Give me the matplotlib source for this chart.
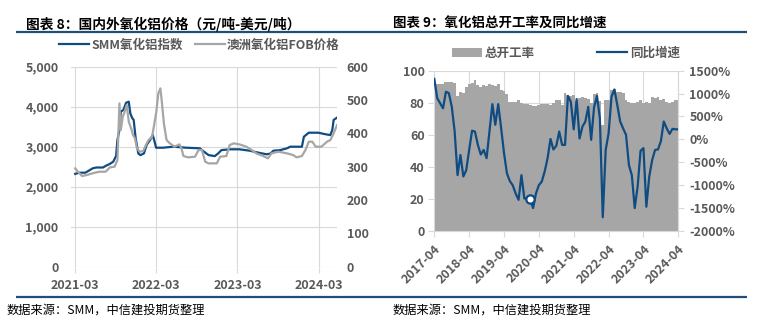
import matplotlib
matplotlib.use("Agg")
import matplotlib.pyplot as plt
import numpy as np
import pandas as pd
from matplotlib.lines import Line2D
from matplotlib.patches import Patch

plt.rcParams['font.family'] = ['Noto Sans CJK SC', 'DejaVu Sans']

# ---------------- data ----------------
# SMM alumina index (CNY/t)
smm_dates = ["2021-03-01", "2021-03-19", "2021-04-15", "2021-05-01", "2021-05-19", "2021-06-04",
             "2021-07-04", "2021-07-16", "2021-08-04", "2021-08-19", "2021-09-01", "2021-09-07",
             "2021-09-16", "2021-09-22", "2021-10-04", "2021-10-16", "2021-10-28", "2021-11-04",
             "2021-11-13", "2021-11-19", "2021-11-28", "2021-12-10", "2021-12-19", "2022-01-04",
             "2022-01-16", "2022-02-01", "2022-02-13", "2022-02-19", "2022-02-28", "2022-04-01",
             "2022-05-16", "2022-07-13", "2022-09-13", "2022-09-28", "2022-10-22", "2022-11-19",
             "2022-12-04", "2022-12-19", "2023-01-28", "2023-03-10", "2023-04-25", "2023-06-04",
             "2023-07-10", "2023-07-28", "2023-08-10", "2023-09-10", "2023-10-10", "2023-10-25",
             "2023-12-16", "2023-12-25", "2024-01-16", "2024-02-28", "2024-03-28", "2024-04-22",
             "2024-05-01", "2024-05-07", "2024-05-22"]
smm_values = [2320, 2350, 2350, 2400, 2460, 2480,
              2480, 2520, 2570, 2625, 2770, 3170,
              3420, 3875, 3920, 4100, 4125, 3830,
              3710, 3670, 3210, 2830, 2790, 2830,
              3040, 3170, 3290, 3170, 2975, 2975,
              3000, 2975, 2960, 2890, 2790, 2765,
              2830, 2915, 2935, 2935, 2900, 2850,
              2810, 2830, 2900, 2915, 2960, 3000,
              3000, 3250, 3350, 3350, 3315, 3290,
              3420, 3670, 3725]

# Australian alumina FOB (USD/t)
fob_dates = ["2021-03-01", "2021-03-13", "2021-04-01", "2021-04-22", "2021-05-28", "2021-06-19",
             "2021-07-16", "2021-08-04", "2021-08-25", "2021-09-07", "2021-09-16", "2021-09-22",
             "2021-10-01", "2021-10-07", "2021-10-19", "2021-10-28", "2021-11-10", "2021-11-16",
             "2021-11-25", "2021-12-04", "2021-12-16", "2022-01-01", "2022-01-13", "2022-01-25",
             "2022-02-10", "2022-02-19", "2022-03-01", "2022-03-10", "2022-03-19", "2022-03-25",
             "2022-04-04", "2022-04-16", "2022-05-01", "2022-05-22", "2022-06-13", "2022-06-22",
             "2022-07-01", "2022-07-22", "2022-08-22", "2022-09-07", "2022-09-22", "2022-10-07",
             "2022-10-22", "2022-11-28", "2022-12-13", "2023-01-10", "2023-01-25", "2023-02-13",
             "2023-03-10", "2023-04-10", "2023-05-04", "2023-05-25", "2023-06-25", "2023-07-16",
             "2023-08-01", "2023-09-01", "2023-10-10", "2023-11-07", "2023-11-22", "2023-12-16",
             "2024-01-01", "2024-01-16", "2024-02-01", "2024-02-16", "2024-03-13", "2024-04-07",
             "2024-04-22", "2024-05-07", "2024-05-22"]
fob_values = [295, 285, 272, 275, 282, 285,
              285, 298, 300, 320, 490, 410,
              450, 460, 485, 435, 410, 395,
              385, 355, 345, 347, 365, 380,
              390, 425, 465, 520, 535, 500,
              430, 380, 370, 360, 367, 355,
              332, 328, 330, 350, 350, 315,
              310, 310, 330, 332, 365, 370,
              367, 360, 350, 340, 332, 325,
              340, 345, 340, 335, 328, 332,
              350, 375, 375, 360, 360, 375,
              380, 400, 425]

# Monthly alumina operating rate (%) and its YoY change (%), 2017-04 .. 2024-04
months = pd.date_range("2017-04-01", "2024-04-01", freq="MS").strftime("%Y-%m").tolist()
operating_rate = [93, 91.5, 92, 91.5, 93, 93, 93, 92.5, 84, 87,
                  86, 90, 91.5, 92.5, 94, 91, 90, 91.3, 90.4, 92,
                  91, 90.4, 91.5, 88, 87.5, 85.5, 80.5, 80.5, 80.5, 82,
                  80, 79.5, 79, 78.5, 78, 78, 78.5, 79, 79, 79,
                  78.5, 80, 81.5, 82, 78.5, 86, 85, 84, 85, 81,
                  83, 83.5, 83, 82.5, 80, 85.5, 86, 81, 66, 81.5,
                  82, 88, 88.5, 87, 86.5, 86, 82, 80.5, 80, 80,
                  80.5, 81.5, 80, 80.5, 80, 83.5, 83, 83.5, 82, 82.5,
                  80.5, 80, 80.5, 81.5, 82]
yoy_growth = [1320, 900, 790, 680, 1040, 1010, 720, 180, -780, -340,
              -810, -670, -230, 190, 170, -120, -330, -230, -410, 180,
              770, 320, 770, 250, -300, -740, -910, -1000, -1180, -1320,
              -780, -1290, -1290, -1300, -1500, -1180, -1000, -920, -700, -410,
              10, -220, -140, 170, -120, -120, 950, 820, 220, 880,
              20, 280, 390, 710, -10, 700, 950, 460, -1700, -230,
              130, 930, 1090, 750, 390, 240, 100, -560, -780, -1500,
              -1030, -250, -190, -1470, -810, -450, -230, -220, -40, 390,
              240, 120, 230, 220, 220]
highlight_month = "2020-01"

left_xticks = ["2021-03", "2022-03", "2023-03", "2024-03"]
right_xticks = ["2017-04", "2018-04", "2019-04", "2020-04", "2021-04", "2022-04", "2023-04", "2024-04"]

# ---------------- style ----------------
W, H = 757, 332
BLUE = '#0f4c81'
RULE = '#1f4e79'
GRAY = '#a6a6a6'
GRID = '#d9d9d9'
TXT = '#595959'
FS = 9

fig = plt.figure(figsize=(W / 100, H / 100), dpi=100)
fig.patch.set_facecolor('white')


def fx(px):
    return px / W


def fy(py):
    return 1 - py / H


# header / footer rules
for yy in (32.3, 296.7):
    fig.add_artist(Line2D([fx(16), fx(747)], [fy(yy), fy(yy)], transform=fig.transFigure,
                          color=RULE, lw=1.6, solid_capstyle='butt'))

fig.text(fx(26), fy(24), "图表 8：国内外氧化铝价格（元/吨-美元/吨）", fontsize=9.9,
         fontweight='bold', va='center', ha='left', color='black')
fig.text(fx(392.7), fy(24), "图表 9：氧化铝总开工率及同比增速", fontsize=9.7,
         fontweight='bold', va='center', ha='left', color='black')
for x0 in (7, 392.7):
    fig.text(fx(x0), fy(310), "数据来源：SMM，中信建投期货整理", fontsize=8.8,
             va='center', ha='left', color='black', style='italic')

# ---------------- left chart ----------------
ax1 = fig.add_axes([fx(71), fy(266.7), fx(337 - 71), (266.7 - 66.7) / H])
sd = pd.to_datetime(smm_dates)
fd = pd.to_datetime(fob_dates)
ax1.plot(sd, smm_values, color=BLUE, lw=1.6, zorder=3)
ax1.set_ylim(0, 5000)
ax1.set_yticks(np.arange(0, 5001, 1000))
ax1.set_yticklabels([f"{v:,}" for v in range(0, 5001, 1000)])
ax1.set_xlim(pd.Timestamp("2021-02-10"), pd.Timestamp("2024-05-22"))
lt = pd.to_datetime([s + "-01" for s in left_xticks])
ax1.set_xticks(lt)
ax1.set_xticklabels(left_xticks)
ax1.grid(True, color=GRID, lw=0.8)
ax1.set_axisbelow(True)
for s in ax1.spines.values():
    s.set_visible(False)
ax1.tick_params(axis='y', length=0, pad=9, labelsize=FS, labelcolor=TXT)
ax1.tick_params(axis='x', length=4, color=GRID, width=0.8, pad=5, labelsize=FS, labelcolor=TXT)

ax1b = ax1.twinx()
ax1b.plot(fd, fob_values, color=GRAY, lw=1.6, zorder=2)
ax1b.set_ylim(0, 600)
ax1b.set_yticks(np.arange(0, 601, 100))
for s in ax1b.spines.values():
    s.set_visible(False)
ax1b.tick_params(axis='y', length=0, pad=7, labelsize=FS, labelcolor=TXT)
for lab in ax1.get_xticklabels() + ax1.get_yticklabels() + ax1b.get_yticklabels():
    lab.set_fontweight('bold')

h1 = [Line2D([], [], color=BLUE, lw=1.6), Line2D([], [], color=GRAY, lw=1.6)]
leg1 = ax1.legend(h1, ["SMM氧化铝指数", "澳洲氧化铝FOB价格"], loc='center',
                  bbox_to_anchor=(fx(199.5), fy(45)), bbox_transform=fig.transFigure,
                  ncol=2, frameon=False, fontsize=FS, handlelength=2.4, handletextpad=0.2,
                  columnspacing=0.9, borderpad=0)
for t in leg1.get_texts():
    t.set_color(TXT)
    t.set_fontweight('bold')

# ---------------- right chart ----------------
ax2 = fig.add_axes([fx(434.3), fy(231), fx(678.3 - 434.3), (231 - 70.7) / H])
idx = np.arange(len(months))
ax2.bar(idx, operating_rate, width=1.0, color=GRAY, zorder=2, linewidth=0)
ax2.set_xlim(0, len(months) - 1)
ax2.set_ylim(0, 100)
ax2.set_yticks(np.arange(0, 101, 20))
rt = [months.index(m) for m in right_xticks]
ax2.set_xticks(rt)
ax2.set_xticklabels(right_xticks, rotation=45, ha='right', va='top', rotation_mode='anchor')
ax2.grid(True, color=GRID, lw=0.8, zorder=0)
ax2.set_axisbelow(True)
ax2.spines['top'].set_visible(False)
for k in ('left', 'right', 'bottom'):
    ax2.spines[k].set_color(GRID)
    ax2.spines[k].set_linewidth(0.8)
ax2.tick_params(axis='y', length=4, color=GRID, width=0.8, pad=3, labelsize=FS, labelcolor=TXT)
ax2.tick_params(axis='x', length=4, color=GRID, width=0.8, pad=4, labelsize=FS, labelcolor=TXT)

ax2b = ax2.twinx()
ax2b.plot(idx, yoy_growth, color=BLUE, lw=1.6, zorder=3)
hi = months.index(highlight_month)
ax2b.plot([idx[hi]], [yoy_growth[hi]], 'o', mfc='white', mec=BLUE, ms=6, mew=1.6, zorder=4)
ax2b.set_ylim(-2000, 1500)
ax2b.set_yticks(np.arange(-2000, 1501, 500))
ax2b.set_yticklabels([f"{v}%" for v in range(-2000, 1501, 500)])
for k in ('left', 'top', 'bottom'):
    ax2b.spines[k].set_visible(False)
ax2b.spines['right'].set_color(GRID)
ax2b.spines['right'].set_linewidth(0.8)
ax2b.tick_params(axis='y', length=4, color=GRID, width=0.8, pad=4, labelsize=FS, labelcolor=TXT)
for lab in ax2.get_xticklabels() + ax2.get_yticklabels() + ax2b.get_yticklabels():
    lab.set_fontweight('bold')

h2 = [Patch(facecolor=GRAY, edgecolor='none'), Line2D([], [], color=BLUE, lw=1.6)]
leg2 = ax2b.legend(h2, ["总开工率", "同比增速"], loc='center',
                   bbox_to_anchor=(fx(566), fy(53)), bbox_transform=fig.transFigure,
                   ncol=2, frameon=False, fontsize=FS, handlelength=2.4, handleheight=0.7,
                   handletextpad=0.2, columnspacing=5.0, borderpad=0)
for t in leg2.get_texts():
    t.set_color(TXT)
    t.set_fontweight('bold')

fig.savefig("out.png", dpi=100)
